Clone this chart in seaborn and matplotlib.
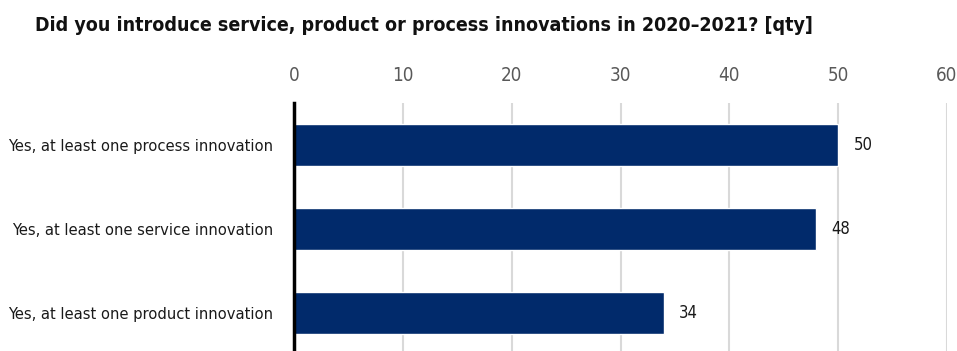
import matplotlib
matplotlib.use("Agg")
import matplotlib.pyplot as plt
import seaborn as sns
import pandas as pd

categories = [
    "Yes, at least one process innovation",
    "Yes, at least one service innovation",
    "Yes, at least one product innovation",
]
counts = [50, 48, 34]
x_ticks = [0, 10, 20, 30, 40, 50, 60]
title = "Did you introduce service, product or process innovations in 2020\u20132021? [qty]"

sns.set_theme(style="white")
plt.rcParams["font.family"] = ["DejaVu Sans"]
plt.rcParams["font.stretch"] = "condensed"

df = pd.DataFrame({"category": categories, "count": counts})

fig = plt.figure(figsize=(9.57, 3.51), dpi=100)
ax = fig.add_axes([294 / 957, 1 - 355 / 351, 653 / 957, (355 - 103) / 351])

sns.barplot(data=df, x="count", y="category", color="#012a6b", width=0.5,
            saturation=1, ax=ax, zorder=3)

ax.set_xlim(0, 60)
ax.set_ylim(2.5, -0.5)
ax.set_xticks(x_ticks)
ax.xaxis.tick_top()
ax.tick_params(axis="x", length=0, pad=13, labelsize=13.5, labelcolor="#595959")
ax.tick_params(axis="y", length=0, pad=15, labelsize=11.8, labelcolor="#1a1a1a")
ax.set_xlabel("")
ax.set_ylabel("")
ax.grid(axis="x", color="#d9d9d9", linewidth=1.5, zorder=0)
ax.grid(axis="y", visible=False)
for side in ["top", "right", "bottom"]:
    ax.spines[side].set_visible(False)
ax.spines["left"].set_color("black")
ax.spines["left"].set_linewidth(2.5)
ax.spines["left"].set_zorder(4)

for i, v in enumerate(counts):
    ax.annotate(str(v), xy=(v, i), xytext=(11, 0), textcoords="offset points",
                va="center", ha="left", fontsize=12, color="#1a1a1a")

fig.text(35 / 957, 1 - 31 / 351, title, fontsize=14, fontweight="bold",
         color="#111111", ha="left", va="baseline")

fig.savefig("out.png", dpi=100)
